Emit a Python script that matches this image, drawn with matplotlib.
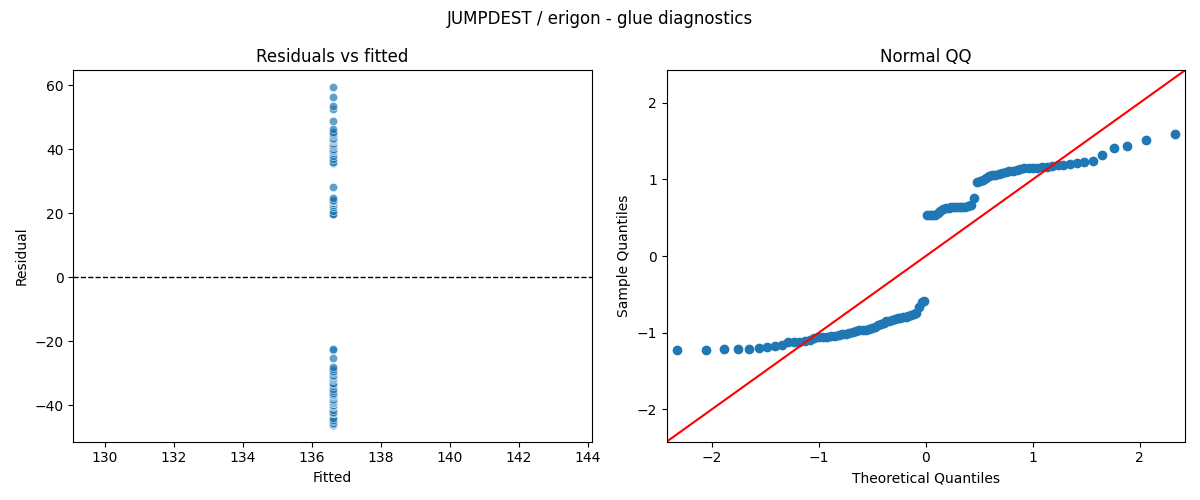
from statistics import NormalDist

import matplotlib
matplotlib.use("Agg")
import matplotlib.pyplot as plt
import numpy as np
import seaborn as sns

# intercept-only glue model: one fitted value, 100 residuals
FITTED_VALUE = 136.6

residuals_pos = [19.6, 19.6, 19.6, 19.9, 20.7, 21.8, 22.6, 23.3, 23.3, 23.7,
                 23.7, 23.7, 23.7, 23.7, 23.7, 24.1, 24.8, 28.2, 35.7, 36.1,
                 36.8, 38.0, 38.7, 39.5, 39.5, 39.9, 40.2, 40.6, 41.0, 41.4,
                 41.7, 42.1, 42.5, 42.5, 42.9, 42.9, 43.2, 43.2, 43.6, 44.0,
                 44.4, 44.7, 45.1, 45.5, 46.2, 48.9, 52.6, 53.4, 56.4, 59.4]
residuals_neg = [-46.2, -46.2, -45.9, -45.9, -45.9, -45.5, -45.1, -44.7, -44.0, -42.5,
                 -42.5, -42.5, -42.1, -41.7, -40.6, -40.2, -39.9, -39.9, -39.5, -39.5,
                 -39.1, -38.7, -38.4, -38.0, -37.6, -37.2, -36.8, -36.8, -36.5, -36.1,
                 -35.7, -35.0, -34.2, -33.5, -33.1, -32.3, -32.0, -31.6, -31.2, -30.8,
                 -30.8, -30.5, -30.1, -29.7, -29.3, -28.6, -28.2, -25.2, -22.9, -22.6]

residuals = np.array(residuals_neg + residuals_pos)
fitted = np.full(len(residuals), FITTED_VALUE)

# QQ against the normal, standardised like a fitted ProbPlot
n = len(residuals)
sample_q = np.sort((residuals - residuals.mean()) / residuals.std())
theo_q = np.array([NormalDist().inv_cdf(i / (n + 1)) for i in range(1, n + 1)])

fig, (ax_res, ax_qq) = plt.subplots(1, 2, figsize=(12, 5), dpi=100)
fig.suptitle("JUMPDEST / erigon - glue diagnostics")

sns.scatterplot(x=fitted, y=residuals, ax=ax_res, alpha=0.7)
ax_res.axhline(0, color="k", linestyle="--", linewidth=1)
ax_res.set_title("Residuals vs fitted")
ax_res.set_xlabel("Fitted")
ax_res.set_ylabel("Residual")

ax_qq.plot(theo_q, sample_q, "o", color="C0")
lim = np.abs(theo_q).max() * 1.04
ax_qq.plot([-lim, lim], [-lim, lim], "r")
ax_qq.set_xlim(-lim, lim)
ax_qq.set_ylim(-lim, lim)
ax_qq.set_title("Normal QQ")
ax_qq.set_xlabel("Theoretical Quantiles")
ax_qq.set_ylabel("Sample Quantiles")

fig.tight_layout()
fig.savefig("out.png")
